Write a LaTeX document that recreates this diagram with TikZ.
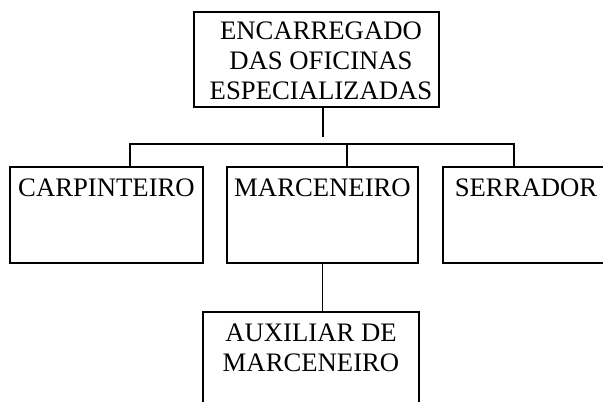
\documentclass[tikz,border=0pt]{standalone}
\usepackage{fontspec}
\setmainfont{Liberation Serif}
\usepackage{tikz}
\usetikzlibrary{positioning}

\begin{document}
\begin{tikzpicture}[x=1pt,y=-1pt,line width=1.4pt,
		caixa/.style={draw,rectangle,inner sep=0pt},
		rotulo/.style={anchor=base,align=center,inner sep=0pt,font=\fontsize{26.7}{30}\selectfont}]
			\clip (0,0) rectangle (603,402);
			
			% caixas
			\node[caixa,minimum width=245pt,minimum height=95pt] (chefe) at (316.5,59.5) {};
			\node[caixa,minimum width=193pt,minimum height=96pt] (carp) at (106.5,215) {};
			\node[caixa,minimum width=191pt,minimum height=96pt] (marc) at (322.5,215) {};
			\node[caixa,minimum width=167pt,minimum height=96pt] (serr) at (526.5,215) {};
			\node[caixa,minimum width=216pt,minimum height=108pt] (aux) at (311,366) {};
			
			% textos (base = ultima linha)
			\node[rotulo] (tchefe) at (321,99) {ENCARREGADO\\DAS OFICINAS\\ESPECIALIZADAS};
			\node[rotulo] (tcarp) at (106.5,196) {CARPINTEIRO};
			\node[rotulo] (tmarc) at (322.5,196) {MARCENEIRO};
			\node[rotulo] (tserr) at (526,196) {SERRADOR};
			\node[rotulo] (taux) at (311,371) {AUXILIAR DE\\MARCENEIRO};
			
			% ligacoes
			\coordinate (haste) at (323,137);
			\coordinate (busw) at (130,144);
			\coordinate (busm) at (347,144);
			\coordinate (buse) at (514,144);
			
			\draw (chefe.south -| haste) -- (haste);
			\draw (carp.north -| busw) -- (busw) -- (buse) -- (serr.north -| buse);
			\draw (busm) -- (marc.north -| busm);
			\draw (marc.south) -- (aux.north -| marc.south);
			
\end{tikzpicture}
\end{document}
